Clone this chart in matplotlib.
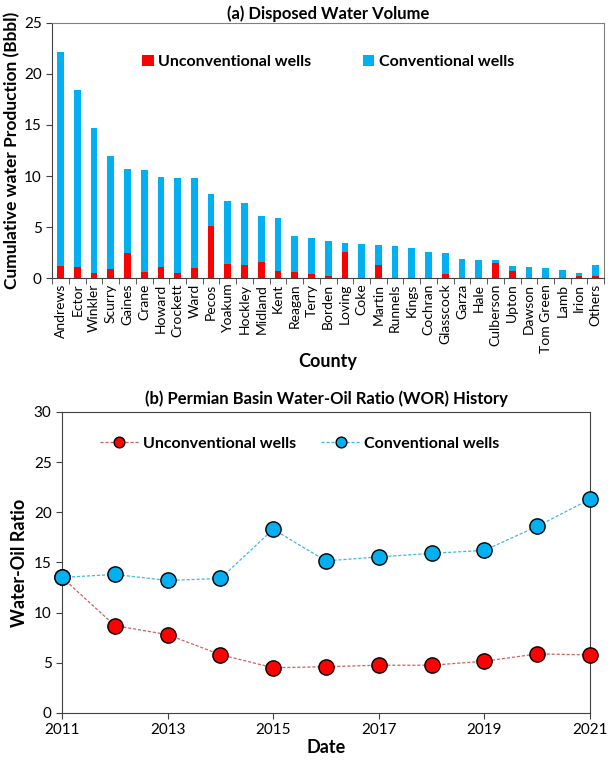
import matplotlib
matplotlib.use('Agg')
import matplotlib.pyplot as plt
import numpy as np

plt.rcParams['font.family'] = ['Lato', 'DejaVu Sans']

# (a) disposed water volume per county, Bbbl
counties = ['Andrews', 'Ector', 'Winkler', 'Scurry', 'Gaines', 'Crane', 'Howard',
            'Crockett', 'Ward', 'Pecos', 'Yoakum', 'Hockley', 'Midland', 'Kent',
            'Reagan', 'Terry', 'Borden', 'Loving', 'Coke', 'Martin', 'Runnels',
            'Kings', 'Cochran', 'Glasscock', 'Garza', 'Hale', 'Culberson', 'Upton',
            'Dawson', 'Tom Green', 'Lamb', 'Irion', 'Others']
total = [22.1, 18.4, 14.7, 12.0, 10.7, 10.6, 9.9, 9.8, 9.8, 8.2, 7.6, 7.4, 6.1, 5.9,
         4.1, 3.95, 3.63, 3.46, 3.37, 3.24, 3.14, 3.0, 2.52, 2.45, 1.86, 1.76, 1.76,
         1.18, 1.14, 0.98, 0.75, 0.52, 1.24]
unconv = [1.2, 1.1, 0.5, 0.9, 2.5, 0.6, 1.05, 0.5, 0.95, 5.1, 1.4, 1.3, 1.6, 0.7,
          0.65, 0.42, 0.2, 2.55, 0.05, 1.27, 0.0, 0.0, 0.05, 0.36, 0.0, 0.0, 1.5,
          0.69, 0.0, 0.0, 0.0, 0.2, 0.23]
conv = [t - u for t, u in zip(total, unconv)]

# (b) water-oil ratio history
years = list(range(2011, 2022))
wor_unconv = [13.5, 8.7, 7.8, 5.8, 4.5, 4.6, 4.75, 4.75, 5.15, 5.88, 5.78]
wor_conv = [13.5, 13.8, 13.2, 13.4, 18.3, 15.15, 15.55, 15.9, 16.2, 18.6, 21.3]

RED = '#FF0000'
BLUE = '#00B0F0'

fig = plt.figure(figsize=(6.14, 7.6), dpi=100)

# ---- top panel
ax1 = fig.add_axes([0.085, 0.634, 0.899, 0.336])
x = np.arange(len(counties))
ax1.bar(x, unconv, width=0.4, color=RED, label='Unconventional wells')
ax1.bar(x, conv, width=0.4, bottom=unconv, color=BLUE, label='Conventional wells')
ax1.set_xlim(-0.5, len(counties) - 0.5)
ax1.set_ylim(0, 25)
ax1.set_yticks([0, 5, 10, 15, 20, 25])
ax1.set_xticks(x)
ax1.set_xticklabels(counties, rotation=90, fontsize=10)
ax1.tick_params(axis='x', length=0, pad=4)
ax1.set_xticks(np.arange(-0.5, len(counties), 1), minor=True)
ax1.tick_params(axis='x', which='minor', length=4, direction='out', color='#404040')
ax1.tick_params(axis='y', labelsize=11, direction='out', length=4, color='#404040')
for s in ax1.spines.values():
    s.set_color('#808080')
ax1.spines['left'].set_color('#404040')
ax1.spines['bottom'].set_color('#404040')
ax1.set_ylabel('Cumulative water Production (Bbbl)', fontsize=12.5, fontweight='bold',
               labelpad=3)
ax1.set_xlabel('County', fontsize=13, fontweight='bold', labelpad=0)
ax1.set_title('(a) Disposed Water Volume', fontsize=12, fontweight='bold', pad=3)
leg1 = ax1.legend(ncol=2, loc='upper center', bbox_to_anchor=(0.5, 0.93), frameon=False,
                  fontsize=11.5, handlelength=0.7, handleheight=0.7, handletextpad=0.3,
                  columnspacing=3.2)
for t in leg1.get_texts():
    t.set_fontweight('bold')

# ---- bottom panel
ax2 = fig.add_axes([0.101, 0.062, 0.86, 0.396])
ax2.plot(years, wor_unconv, linestyle=(0, (2.5, 1.5)), color='#D06060', lw=0.9,
         marker='o', markersize=11, markerfacecolor=RED, markeredgecolor='black',
         markeredgewidth=1.0, label='Unconventional wells', clip_on=False, zorder=3)
ax2.plot(years, wor_conv, linestyle=(0, (2.5, 1.5)), color='#40B8E0', lw=0.9,
         marker='o', markersize=11, markerfacecolor=BLUE, markeredgecolor='black',
         markeredgewidth=1.0, label='Conventional wells', clip_on=False, zorder=4)
ax2.set_xlim(2011, 2021)
ax2.set_ylim(0, 30)
ax2.set_xticks([2011, 2013, 2015, 2017, 2019, 2021])
ax2.set_yticks([0, 5, 10, 15, 20, 25, 30])
ax2.tick_params(labelsize=11, direction='out', length=4, color='#404040')
for s in ax2.spines.values():
    s.set_color('#404040')
ax2.set_ylabel('Water-Oil Ratio', fontsize=13, fontweight='bold')
ax2.set_xlabel('Date', fontsize=13, fontweight='bold', labelpad=1)
ax2.set_title('(b) Permian Basin Water-Oil Ratio (WOR) History', fontsize=12,
              fontweight='bold', pad=6)
leg2 = ax2.legend(ncol=2, loc='upper center', bbox_to_anchor=(0.45, 0.965), frameon=False,
                  fontsize=11.5, handlelength=2.4, handletextpad=0.3, columnspacing=1.6,
                  markerscale=0.7)
for t in leg2.get_texts():
    t.set_fontweight('bold')

fig.savefig('out.png', dpi=100)
